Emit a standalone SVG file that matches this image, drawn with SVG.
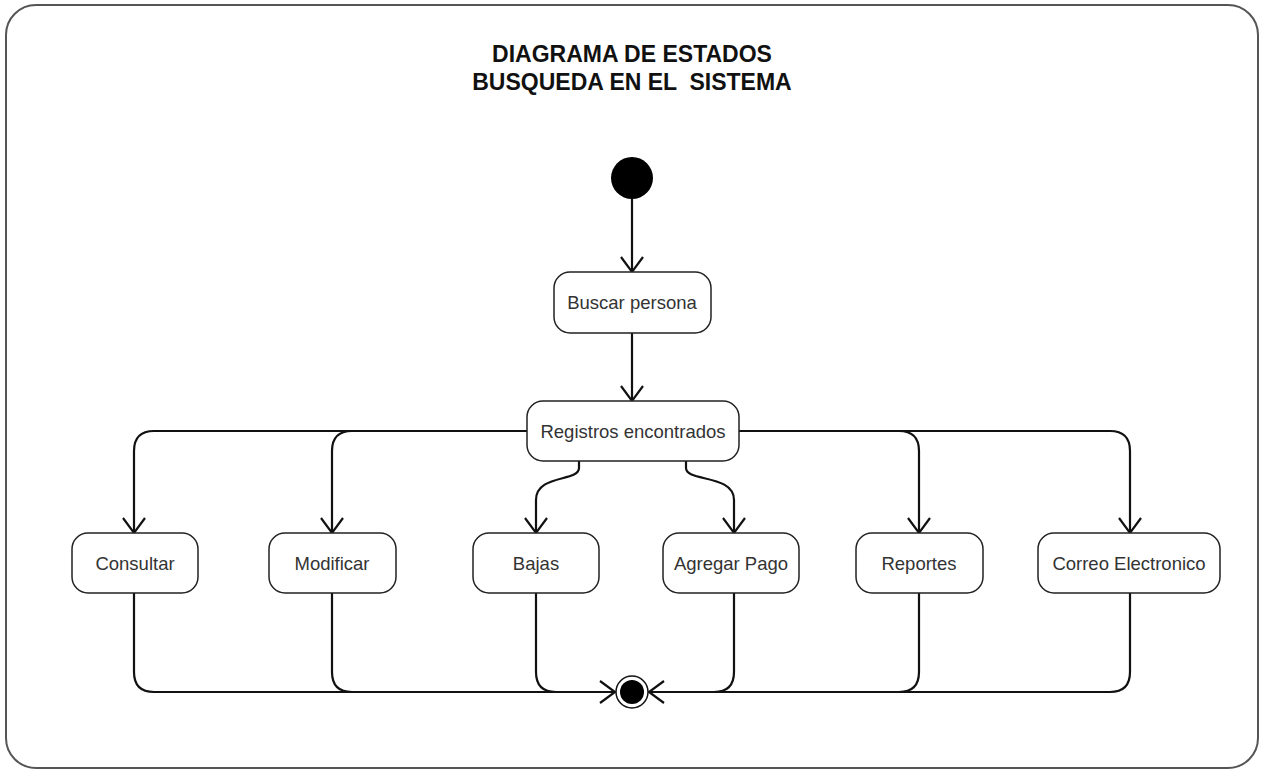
<svg xmlns="http://www.w3.org/2000/svg" width="1261" height="771" viewBox="0 0 1261 771">
<style>
.frame{fill:#fff;stroke:#555;stroke-width:2}
.node{fill:#fff;stroke:#222;stroke-width:1.5}
.lbl{font-family:"Liberation Sans",Arial,sans-serif;font-size:18.5px;fill:#333;text-anchor:middle;dominant-baseline:central}
.title{font-family:"Liberation Sans",Arial,sans-serif;font-size:23px;font-weight:bold;fill:#111;text-anchor:middle;white-space:pre}
.conn{fill:none;stroke:#111;stroke-width:2.2}
</style>
<defs>
<marker id="arr" markerUnits="userSpaceOnUse" markerWidth="30" markerHeight="30" viewBox="0 0 30 30" refX="20" refY="15" orient="auto">
<path d="M5,4 L20,15 L5,26" fill="none" stroke="#111" stroke-width="2.2"/>
</marker>
</defs>
<rect class="frame" x="6" y="5" width="1252" height="763" rx="30" ry="30"/>
<text class="title" x="632" y="62">DIAGRAMA DE ESTADOS</text>
<text class="title" x="632" y="90" xml:space="preserve">BUSQUEDA EN EL  SISTEMA</text>
<g id="connectors">
<path class="conn" d="M632,199 V272" marker-end="url(#arr)"/>
<path class="conn" d="M632,333 V401" marker-end="url(#arr)"/>
<path class="conn" d="M527,431 H154 Q134,431 134,451 V533" marker-end="url(#arr)"/>
<path class="conn" d="M527,431 H352 Q332,431 332,451 V533" marker-end="url(#arr)"/>
<path class="conn" d="M579,461 V468 C579,482 536,474 536,500 V533" marker-end="url(#arr)"/>
<path class="conn" d="M686,461 V468 C686,482 734,474 734,500 V533" marker-end="url(#arr)"/>
<path class="conn" d="M739,431 H899 Q919,431 919,451 V533" marker-end="url(#arr)"/>
<path class="conn" d="M739,431 H1110 Q1130,431 1130,451 V533" marker-end="url(#arr)"/>
<path class="conn" d="M134,593 V672 Q134,692 154,692 H615" marker-end="url(#arr)"/>
<path class="conn" d="M332,593 V672 Q332,692 352,692"/>
<path class="conn" d="M536,593 V672 Q536,692 556,692"/>
<path class="conn" d="M1130,593 V672 Q1130,692 1110,692 H649" marker-end="url(#arr)"/>
<path class="conn" d="M919,593 V672 Q919,692 899,692"/>
<path class="conn" d="M734,593 V672 Q734,692 714,692"/>
</g>
<g id="initial"><circle cx="632" cy="178" r="21" fill="#000"/></g>
<g id="buscar"><rect class="node" x="554" y="272" width="157" height="61" rx="16"/><text class="lbl" x="632" y="302">Buscar persona</text></g>
<g id="registros"><rect class="node" x="527" y="401" width="212" height="60" rx="16"/><text class="lbl" x="633" y="431">Registros encontrados</text></g>
<g id="consultar"><rect class="node" x="72" y="533" width="126" height="60" rx="16"/><text class="lbl" x="135" y="563">Consultar</text></g>
<g id="modificar"><rect class="node" x="269" y="533" width="127" height="60" rx="16"/><text class="lbl" x="332" y="563">Modificar</text></g>
<g id="bajas"><rect class="node" x="473" y="533" width="126" height="60" rx="16"/><text class="lbl" x="536" y="563">Bajas</text></g>
<g id="agregar"><rect class="node" x="663" y="533" width="136" height="60" rx="16"/><text class="lbl" x="731" y="563">Agregar Pago</text></g>
<g id="reportes"><rect class="node" x="856" y="533" width="127" height="60" rx="16"/><text class="lbl" x="919" y="563">Reportes</text></g>
<g id="correo"><rect class="node" x="1038" y="533" width="182" height="60" rx="16"/><text class="lbl" x="1129" y="563">Correo Electronico</text></g>
<g id="final"><circle cx="632" cy="692" r="16" fill="#fff" stroke="#111" stroke-width="1.5"/><circle cx="632" cy="692" r="12" fill="#000"/></g>
</svg>
